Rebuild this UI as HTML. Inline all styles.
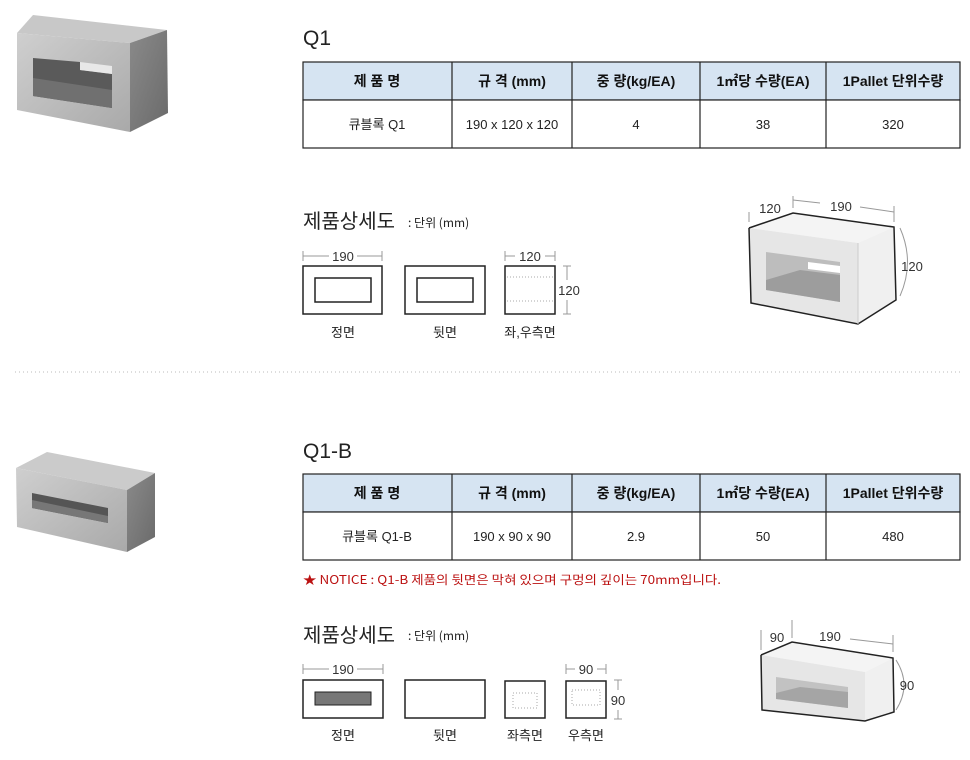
<!DOCTYPE html>
<html><head><meta charset="utf-8">
<style>
html,body{margin:0;padding:0;background:#fff;}
svg{display:block;}
text{font-family:"Liberation Sans","Noto Sans CJK KR",sans-serif;}
.k{font-family:"Noto Sans CJK KR","Liberation Sans",sans-serif;}
</style></head><body>
<svg width="970" height="760" viewBox="0 0 970 760" xmlns="http://www.w3.org/2000/svg">
<defs>
<linearGradient id="gF" x1="0" y1="0" x2="1" y2="1"><stop offset="0" stop-color="#cfcfcf"/><stop offset="1" stop-color="#a9a9a9"/></linearGradient>
<linearGradient id="gS" x1="0" y1="0" x2="1" y2="1"><stop offset="0" stop-color="#8a8a8a"/><stop offset="1" stop-color="#6a6a6a"/></linearGradient>
</defs>

<!-- Q1 photo -->
<polygon points="17,33 33,15 167,30 130,43" fill="#c8c8c8"/>
<polygon points="17,33 130,43 130,132 17,110" fill="url(#gF)"/>
<polygon points="130,43 167,30 168,113 130,132" fill="url(#gS)"/>
<polygon points="33,58 80,62 80,70 112,74 112,108 33,96" fill="#5a5a5a"/>
<polygon points="33,78 112,90 112,108 33,96" fill="#707070"/>
<polygon points="80,62 112,66 112,74 80,70" fill="#e8e8e8"/>

<!-- Q1 title -->
<text x="303" y="45" font-size="21" fill="#222">Q1</text>

<!-- Table 1 -->
<g stroke="#222" stroke-width="1.2">
<rect x="303" y="62" width="657" height="38" fill="#d6e4f2"/>
<rect x="303" y="100" width="657" height="48" fill="#fff"/>
<line x1="452" y1="62" x2="452" y2="148"/><line x1="572" y1="62" x2="572" y2="148"/>
<line x1="700" y1="62" x2="700" y2="148"/><line x1="826" y1="62" x2="826" y2="148"/>
</g>
<g class="k" font-size="14" font-weight="bold" text-anchor="middle" fill="#111">
<text x="377" y="86">제 품 명</text><text x="512" y="86">규 격 (mm)</text><text x="636" y="86">중 량(kg/EA)</text><text x="763" y="86">1㎡당 수량(EA)</text><text x="893" y="86">1Pallet 단위수량</text>
</g>
<g class="k" font-size="13" text-anchor="middle" fill="#222">
<text x="377" y="129">큐블록 Q1</text><text x="512" y="129">190 x 120 x 120</text><text x="636" y="129">4</text><text x="763" y="129">38</text><text x="893" y="129">320</text>
</g>

<!-- Detail 1 -->
<text class="k" x="303" y="228" font-size="20" fill="#222">제품상세도</text>
<text class="k" x="408" y="227" font-size="12" fill="#222">: 단위 (mm)</text>
<g stroke="#999" stroke-width="1"><line x1="303" y1="256" x2="329" y2="256"/><line x1="357" y1="256" x2="382" y2="256"/><line x1="303" y1="251" x2="303" y2="261"/><line x1="382" y1="251" x2="382" y2="261"/>
<line x1="505" y1="256" x2="515" y2="256"/><line x1="545" y1="256" x2="555" y2="256"/><line x1="505" y1="251" x2="505" y2="261"/><line x1="555" y1="251" x2="555" y2="261"/>
<line x1="567" y1="266" x2="567" y2="280"/><line x1="567" y1="300" x2="567" y2="314"/><line x1="563" y1="266" x2="571" y2="266"/><line x1="563" y1="314" x2="571" y2="314"/></g>
<text x="343" y="261" font-size="13" text-anchor="middle" fill="#333">190</text>
<text x="530" y="261" font-size="13" text-anchor="middle" fill="#333">120</text>
<text x="569" y="295" font-size="13" text-anchor="middle" fill="#333">120</text>
<g fill="#fff" stroke="#222" stroke-width="1.5">
<rect x="303" y="266" width="79" height="48"/><rect x="315" y="278" width="56" height="24"/>
<rect x="405" y="266" width="80" height="48"/><rect x="417" y="278" width="56" height="24"/>
<rect x="505" y="266" width="50" height="48"/></g>
<g stroke="#aaa" stroke-dasharray="1,2"><line x1="507" y1="277" x2="553" y2="277"/><line x1="507" y1="301" x2="553" y2="301"/></g>
<g class="k" font-size="13" text-anchor="middle" fill="#222"><text x="343" y="337">정면</text><text x="445" y="337">뒷면</text><text x="530" y="337">좌,우측면</text></g>

<!-- 3D box 1 -->
<polygon points="749,228 793,213 894,227 858,243" fill="#f4f4f4"/>
<polygon points="749,228 858,243 858,324 751,303" fill="#e6e6e6"/>
<polygon points="858,243 894,227 896,300 858,324" fill="#f0f0f0"/>
<polyline points="749,228 793,213 894,227 896,300 858,324 751,303 749,228" fill="none" stroke="#222" stroke-width="1.5"/>
<line x1="858" y1="243" x2="858" y2="324" stroke="#ccc"/>
<polygon points="766,252 840,262 840,302 766,290" fill="#bdbdbd"/>
<polygon points="766,280 800,270 840,275 840,302 766,290" fill="#9d9d9d"/>
<polygon points="808,262 840,266 840,273 808,269" fill="#fff"/>
<g stroke="#999" fill="none"><line x1="749" y1="212" x2="749" y2="222"/><line x1="793" y1="196" x2="793" y2="208"/><line x1="894" y1="206" x2="894" y2="222"/>
<line x1="820" y1="203" x2="793" y2="200"/><line x1="860" y1="207" x2="894" y2="212"/><path d="M900,228 Q915,262 900,296"/></g>
<text x="770" y="213" font-size="13" text-anchor="middle" fill="#333">120</text>
<text x="841" y="211" font-size="13" text-anchor="middle" fill="#333">190</text>
<text x="912" y="271" font-size="13" text-anchor="middle" fill="#333">120</text>

<!-- separator -->
<line x1="15" y1="372" x2="960" y2="372" stroke="#bbb" stroke-dasharray="1,3"/>

<!-- Q1-B photo -->
<polygon points="16,468 47,452 155,473 127,490" fill="#cbcbcb"/>
<polygon points="16,468 127,490 127,552 17,527" fill="url(#gF)"/>
<polygon points="127,490 155,473 155,537 127,552" fill="url(#gS)"/>
<polygon points="32,493 108,508 108,523 32,508" fill="#555"/>
<polygon points="32,500 108,516 108,523 32,508" fill="#777"/>

<text x="303" y="458" font-size="21" fill="#222">Q1-B</text>

<!-- Table 2 -->
<g stroke="#222" stroke-width="1.2">
<rect x="303" y="474" width="657" height="38" fill="#d6e4f2"/>
<rect x="303" y="512" width="657" height="48" fill="#fff"/>
<line x1="452" y1="474" x2="452" y2="560"/><line x1="572" y1="474" x2="572" y2="560"/>
<line x1="700" y1="474" x2="700" y2="560"/><line x1="826" y1="474" x2="826" y2="560"/>
</g>
<g class="k" font-size="14" font-weight="bold" text-anchor="middle" fill="#111">
<text x="377" y="498">제 품 명</text><text x="512" y="498">규 격 (mm)</text><text x="636" y="498">중 량(kg/EA)</text><text x="763" y="498">1㎡당 수량(EA)</text><text x="893" y="498">1Pallet 단위수량</text>
</g>
<g class="k" font-size="13" text-anchor="middle" fill="#222">
<text x="377" y="541">큐블록 Q1-B</text><text x="512" y="541">190 x 90 x 90</text><text x="636" y="541">2.9</text><text x="763" y="541">50</text><text x="893" y="541">480</text>
</g>
<text class="k" x="303" y="584" font-size="12" fill="#b11" textLength="418" lengthAdjust="spacingAndGlyphs">★ NOTICE : Q1-B 제품의 뒷면은 막혀 있으며 구멍의 깊이는 70mm입니다.</text>

<!-- Detail 2 -->
<text class="k" x="303" y="642" font-size="20" fill="#222">제품상세도</text>
<text class="k" x="408" y="640" font-size="12" fill="#222">: 단위 (mm)</text>
<g stroke="#999"><line x1="303" y1="669" x2="329" y2="669"/><line x1="357" y1="669" x2="383" y2="669"/><line x1="303" y1="664" x2="303" y2="674"/><line x1="383" y1="664" x2="383" y2="674"/>
<line x1="566" y1="669" x2="575" y2="669"/><line x1="597" y1="669" x2="606" y2="669"/><line x1="566" y1="664" x2="566" y2="674"/><line x1="606" y1="664" x2="606" y2="674"/>
<line x1="618" y1="680" x2="618" y2="690"/><line x1="618" y1="710" x2="618" y2="719"/><line x1="614" y1="680" x2="622" y2="680"/><line x1="614" y1="719" x2="622" y2="719"/></g>
<text x="343" y="674" font-size="13" text-anchor="middle" fill="#333">190</text>
<text x="586" y="674" font-size="13" text-anchor="middle" fill="#333">90</text>
<text x="618" y="705" font-size="13" text-anchor="middle" fill="#333">90</text>
<g stroke="#222" stroke-width="1.5" fill="#fff">
<rect x="303" y="680" width="80" height="38"/><rect x="405" y="680" width="80" height="38"/>
<rect x="505" y="681" width="40" height="37"/><rect x="566" y="681" width="40" height="37"/></g>
<rect x="315" y="692" width="56" height="13" fill="#777" stroke="#222"/>
<rect x="513" y="693" width="24" height="15" fill="none" stroke="#aaa" stroke-dasharray="1,2"/>
<rect x="572" y="690" width="28" height="15" fill="none" stroke="#aaa" stroke-dasharray="1,2"/>
<g class="k" font-size="13" text-anchor="middle" fill="#222"><text x="343" y="740">정면</text><text x="445" y="740">뒷면</text><text x="525" y="740">좌측면</text><text x="586" y="740">우측면</text></g>

<!-- 3D box 2 -->
<polygon points="761,655 792,642 893,658 865,672" fill="#f4f4f4"/>
<polygon points="761,655 865,672 865,721 762,710" fill="#e6e6e6"/>
<polygon points="865,672 893,658 894,712 865,721" fill="#f0f0f0"/>
<polyline points="761,655 792,642 893,658 894,712 865,721 762,710 761,655" fill="none" stroke="#222" stroke-width="1.5"/>
<polygon points="776,677 848,687 848,708 776,699" fill="#c2c2c2"/>
<polygon points="776,693 800,687 848,692 848,708 776,699" fill="#a5a5a5"/>
<g stroke="#999" fill="none"><line x1="761" y1="630" x2="761" y2="650"/><line x1="792" y1="620" x2="792" y2="638"/><line x1="893" y1="635" x2="893" y2="652"/>
<line x1="850" y1="639" x2="893" y2="644"/><path d="M896,660 Q912,685 896,710"/></g>
<text x="777" y="642" font-size="13" text-anchor="middle" fill="#333">90</text>
<text x="830" y="641" font-size="13" text-anchor="middle" fill="#333">190</text>
<text x="907" y="690" font-size="13" text-anchor="middle" fill="#333">90</text>
</svg>
</body></html>
